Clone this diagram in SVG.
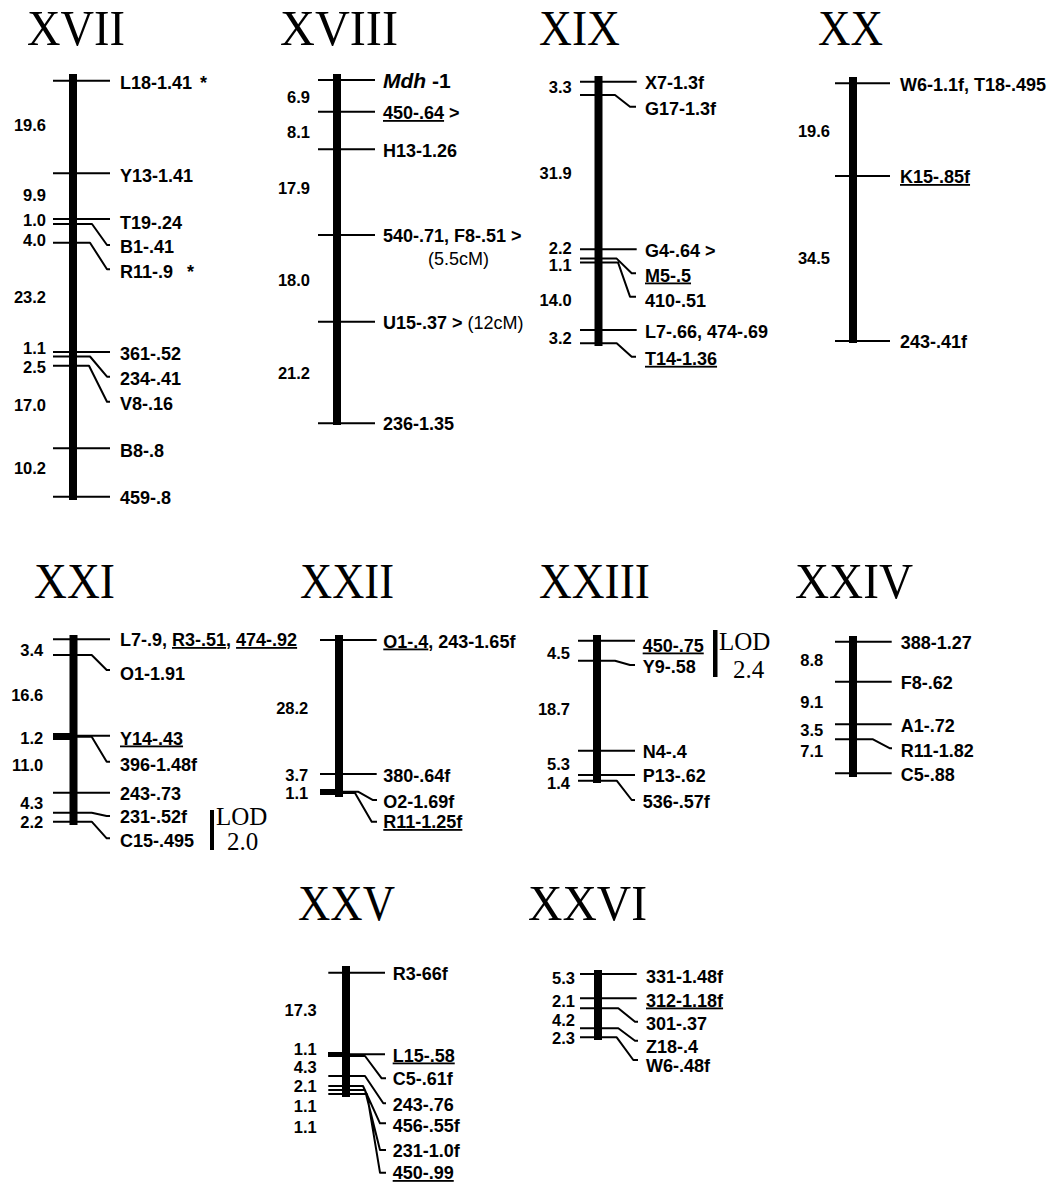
<svg xmlns="http://www.w3.org/2000/svg" width="1051" height="1186" viewBox="0 0 1051 1186">
<style>
.bg{fill:#fff}
.bar{fill:#000}
.tk{fill:none;stroke:#000;stroke-width:2;stroke-linejoin:round}
.lbl{font-family:"Liberation Sans",Arial,sans-serif;font-weight:bold;font-size:18px;fill:#000}
.num{font-family:"Liberation Sans",Arial,sans-serif;font-weight:bold;font-size:16.5px;fill:#000;text-anchor:end}
.ttl{font-family:"Liberation Serif","Times New Roman",serif;font-size:50px;fill:#000}
.lod{font-family:"Liberation Serif","Times New Roman",serif;font-size:25px;fill:#000}
.reg{font-weight:normal}
.u{text-decoration:underline}
</style>
<rect class="bg" x="0" y="0" width="1051" height="1186"/>

<!-- Titles -->
<g id="titles">
<text class="ttl" x="27" y="45" textLength="98" lengthAdjust="spacingAndGlyphs">XVII</text>
<text class="ttl" x="280" y="45" textLength="118" lengthAdjust="spacingAndGlyphs">XVIII</text>
<text class="ttl" x="539" y="45" textLength="81" lengthAdjust="spacingAndGlyphs">XIX</text>
<text class="ttl" x="818" y="45" textLength="65" lengthAdjust="spacingAndGlyphs">XX</text>
<text class="ttl" x="34" y="598" textLength="81" lengthAdjust="spacingAndGlyphs">XXI</text>
<text class="ttl" x="300" y="598" textLength="94" lengthAdjust="spacingAndGlyphs">XXII</text>
<text class="ttl" x="539" y="598" textLength="111" lengthAdjust="spacingAndGlyphs">XXIII</text>
<text class="ttl" x="795" y="598" textLength="118" lengthAdjust="spacingAndGlyphs">XXIV</text>
<text class="ttl" x="298" y="920" textLength="97" lengthAdjust="spacingAndGlyphs">XXV</text>
<text class="ttl" x="528" y="920" textLength="119" lengthAdjust="spacingAndGlyphs">XXVI</text>
</g>

<!-- Connectors (marker ticks) -->
<g id="connectors">
<!-- XVII -->
<path class="tk" d="M53,80.7H110M53,173.3H110M53,219H110M53,352H110M53,448.3H110M53,496.7H110"/>
<path class="tk" d="M53,224H92L107,245H110M53,242.7H90L107,269.3H110M53,356.5H90L107,376.7H110M53,365.7H89L107,401.7H110"/>
<!-- XVIII -->
<path class="tk" d="M318,80H375M318,111.7H375M318,149.3H375M318,235H375M318,321.7H375M318,423.3H375"/>
<!-- XIX -->
<path class="tk" d="M580,81.7H636.7M580,249.3H636.7M580,330H636.7"/>
<path class="tk" d="M580,95H615L630,106.7H636M580,258.6H616.7L631.7,273.3H636M580,262.4H618L630,296.7H636M580,343.3H616.7L631.7,356.7H636"/>
<!-- XX -->
<path class="tk" d="M835,83.3H890M835,176H890M835,341H890"/>
<!-- XXI -->
<path class="tk" d="M53,639.3H110M53,735.7H110M53,792.7H110"/>
<path class="tk" d="M53,655H91.7L106.7,670H110M73,736.7H91.7L106.7,761.7H110M53,812.7H91.7L106.7,816H110M53,821.7H91.7L106.7,838.3H110"/>
<!-- XXII -->
<path class="tk" d="M320,640H376.7M320,774H376.7"/>
<path class="tk" d="M320,791.7H358L373,800H377M320,793H355L371.7,821.7H377"/>
<!-- XXIII -->
<path class="tk" d="M578,640.7H635M578,750.7H635M578,775H635"/>
<path class="tk" d="M578,660.7H615L630,665H635M578,780.7H616.7L631.7,800H635"/>
<!-- XXIV -->
<path class="tk" d="M835,641.7H891.7M835,681.7H891.7M835,724.3H891.7M835,773.3H891.7"/>
<path class="tk" d="M835,739.3H873L890,748.3H892"/>
<!-- XXV -->
<path class="tk" d="M328.3,972.7H385M328.3,1054.3H385"/>
<path class="tk" d="M346,1056H365L381.7,1078.3H386M328.3,1076H365L383.3,1103.3H386M328.3,1086H363L380,1123.3H386M328.3,1090H365L380,1150H386M328.3,1094H367L380,1172.7H386"/>
<!-- XXVI -->
<path class="tk" d="M580,974H636.7M580,998.3H636.7"/>
<path class="tk" d="M580,1008.3H618.3L635,1021.7H638M580,1028.3H618.3L635,1040.7H638M580,1037.3H616.7L633.3,1060H638"/>
</g>

<!-- Chromosome XVII -->
<g id="chr-XVII">
<rect class="bar" x="69" y="74" width="8" height="426"/>
<text class="num" x="46" y="131">19.6</text>
<text class="num" x="46" y="201">9.9</text>
<text class="num" x="46" y="226">1.0</text>
<text class="num" x="46" y="246">4.0</text>
<text class="num" x="46" y="302.7">23.2</text>
<text class="num" x="46" y="354">1.1</text>
<text class="num" x="46" y="373">2.5</text>
<text class="num" x="46" y="411">17.0</text>
<text class="num" x="46" y="474.3">10.2</text>
<text class="lbl" x="120" y="88.5">L18-1.41<tspan x="200">*</tspan></text>
<text class="lbl" x="120" y="181.5">Y13-1.41</text>
<text class="lbl" x="120" y="228.5">T19-.24</text>
<text class="lbl" x="120" y="252.5">B1-.41</text>
<text class="lbl" x="120" y="277.5">R11-.9<tspan x="187">*</tspan></text>
<text class="lbl" x="120" y="359.5">361-.52</text>
<text class="lbl" x="120" y="384.5">234-.41</text>
<text class="lbl" x="120" y="409.5">V8-.16</text>
<text class="lbl" x="120" y="456.5">B8-.8</text>
<text class="lbl" x="120" y="503.5">459-.8</text>
</g>

<!-- Chromosome XVIII -->
<g id="chr-XVIII">
<rect class="bar" x="333" y="74" width="8" height="351"/>
<text class="num" x="310" y="102.7">6.9</text>
<text class="num" x="310" y="137.7">8.1</text>
<text class="num" x="310" y="194.3">17.9</text>
<text class="num" x="310" y="286">18.0</text>
<text class="num" x="310" y="379.3">21.2</text>
<text class="lbl" x="383" y="87.5" style="font-size:21px"><tspan font-style="italic">Mdh</tspan> -1</text>
<text class="lbl" x="383" y="119"><tspan class="u">450-.64</tspan> &gt;</text>
<text class="lbl" x="383" y="156.5">H13-1.26</text>
<text class="lbl" x="383" y="242">540-.71, F8-.51 &gt;</text>
<text class="lbl reg" x="428" y="265">(5.5cM)</text>
<text class="lbl" x="383" y="328.5">U15-.37 &gt; <tspan class="reg">(12cM)</tspan></text>
<text class="lbl" x="383" y="430">236-1.35</text>
</g>

<!-- Chromosome XIX -->
<g id="chr-XIX">
<rect class="bar" x="594.5" y="76" width="8" height="270"/>
<text class="num" x="571.7" y="92.7">3.3</text>
<text class="num" x="571.7" y="179.3">31.9</text>
<text class="num" x="571.7" y="253.5">2.2</text>
<text class="num" x="571.7" y="271">1.1</text>
<text class="num" x="571.7" y="306">14.0</text>
<text class="num" x="571.7" y="344.3">3.2</text>
<text class="lbl" x="645" y="88.5">X7-1.3f</text>
<text class="lbl" x="645" y="114.8">G17-1.3f</text>
<text class="lbl" x="645" y="256.5">G4-.64 &gt;</text>
<text class="lbl" x="645" y="281.5"><tspan class="u">M5-.5</tspan></text>
<text class="lbl" x="645" y="306.5">410-.51</text>
<text class="lbl" x="645" y="337.5">L7-.66, 474-.69</text>
<text class="lbl" x="645" y="364.8"><tspan class="u">T14-1.36</tspan></text>
</g>

<!-- Chromosome XX -->
<g id="chr-XX">
<rect class="bar" x="849" y="77" width="8" height="266"/>
<text class="num" x="830" y="136.7">19.6</text>
<text class="num" x="830" y="264.3">34.5</text>
<text class="lbl" x="900" y="90.5">W6-1.1f, T18-.495</text>
<text class="lbl" x="900" y="183"><tspan class="u">K15-.85f</tspan></text>
<text class="lbl" x="900" y="348">243-.41f</text>
</g>

<!-- Chromosome XXI -->
<g id="chr-XXI">
<rect class="bar" x="69.5" y="635" width="8" height="190"/>
<rect class="bar" x="53" y="733" width="20" height="7"/>
<text class="num" x="43.3" y="656">3.4</text>
<text class="num" x="43.3" y="701">16.6</text>
<text class="num" x="43.3" y="744">1.2</text>
<text class="num" x="43.3" y="771">11.0</text>
<text class="num" x="43.3" y="809">4.3</text>
<text class="num" x="43.3" y="828">2.2</text>
<text class="lbl" x="120" y="646">L7-.9, <tspan class="u">R3-.51</tspan>, <tspan class="u">474-.92</tspan></text>
<text class="lbl" x="120" y="680">O1-1.91</text>
<text class="lbl" x="120" y="744.5"><tspan class="u">Y14-.43</tspan></text>
<text class="lbl" x="120" y="770.5">396-1.48f</text>
<text class="lbl" x="120" y="799.5">243-.73</text>
<text class="lbl" x="120" y="823">231-.52f</text>
<text class="lbl" x="120" y="847">C15-.495</text>
<rect class="bar" x="210" y="810" width="4" height="40"/>
<text class="lod" x="216" y="825">LOD</text>
<text class="lod" x="227" y="850">2.0</text>
</g>

<!-- Chromosome XXII -->
<g id="chr-XXII">
<rect class="bar" x="335" y="635" width="8" height="162"/>
<rect class="bar" x="320" y="789" width="18" height="6"/>
<text class="num" x="308.3" y="714.3">28.2</text>
<text class="num" x="308.3" y="781">3.7</text>
<text class="num" x="308.3" y="799.3">1.1</text>
<text class="lbl" x="383.3" y="647.5"><tspan class="u">O1-.4</tspan>, 243-1.65f</text>
<text class="lbl" x="383.3" y="781.5">380-.64f</text>
<text class="lbl" x="383.3" y="808">O2-1.69f</text>
<text class="lbl" x="383.3" y="828"><tspan class="u">R11-1.25f</tspan></text>
</g>

<!-- Chromosome XXIII -->
<g id="chr-XXIII">
<rect class="bar" x="593" y="635" width="8" height="148"/>
<text class="num" x="570" y="658.7">4.5</text>
<text class="num" x="570" y="715.3">18.7</text>
<text class="num" x="570" y="770">5.3</text>
<text class="num" x="570" y="789.3">1.4</text>
<text class="lbl" x="642.7" y="651.5"><tspan class="u">450-.75</tspan></text>
<text class="lbl" x="642.7" y="673">Y9-.58</text>
<text class="lbl" x="642.7" y="757.5">N4-.4</text>
<text class="lbl" x="642.7" y="781.5">P13-.62</text>
<text class="lbl" x="642.7" y="808">536-.57f</text>
<rect class="bar" x="713" y="630" width="4.5" height="47"/>
<text class="lod" x="719" y="650">LOD</text>
<text class="lod" x="733" y="678">2.4</text>
</g>

<!-- Chromosome XXIV -->
<g id="chr-XXIV">
<rect class="bar" x="849" y="636" width="8" height="141"/>
<text class="num" x="823.3" y="666">8.8</text>
<text class="num" x="823.3" y="707.7">9.1</text>
<text class="num" x="823.3" y="736">3.5</text>
<text class="num" x="823.3" y="757">7.1</text>
<text class="lbl" x="900.7" y="648.5">388-1.27</text>
<text class="lbl" x="900.7" y="688.5">F8-.62</text>
<text class="lbl" x="900.7" y="731.5">A1-.72</text>
<text class="lbl" x="900.7" y="756.5">R11-1.82</text>
<text class="lbl" x="900.7" y="780.5">C5-.88</text>
</g>

<!-- Chromosome XXV -->
<g id="chr-XXV">
<rect class="bar" x="342" y="966" width="8" height="131"/>
<rect class="bar" x="328" y="1052" width="15" height="5"/>
<text class="num" x="316.7" y="1016">17.3</text>
<text class="num" x="316.7" y="1055.3">1.1</text>
<text class="num" x="316.7" y="1073.3">4.3</text>
<text class="num" x="316.7" y="1092">2.1</text>
<text class="num" x="316.7" y="1112">1.1</text>
<text class="num" x="316.7" y="1132.7">1.1</text>
<text class="lbl" x="392.7" y="979.5">R3-66f</text>
<text class="lbl" x="392.7" y="1061.5"><tspan class="u">L15-.58</tspan></text>
<text class="lbl" x="392.7" y="1085">C5-.61f</text>
<text class="lbl" x="392.7" y="1110.5">243-.76</text>
<text class="lbl" x="392.7" y="1131.5">456-.55f</text>
<text class="lbl" x="392.7" y="1156.5">231-1.0f</text>
<text class="lbl" x="392.7" y="1179"><tspan class="u">450-.99</tspan></text>
</g>

<!-- Chromosome XXVI -->
<g id="chr-XXVI">
<rect class="bar" x="594" y="970" width="8" height="70"/>
<text class="num" x="575" y="984.3">5.3</text>
<text class="num" x="575" y="1006.7">2.1</text>
<text class="num" x="575" y="1026">4.2</text>
<text class="num" x="575" y="1044.3">2.3</text>
<text class="lbl" x="646" y="982.5">331-1.48f</text>
<text class="lbl" x="646" y="1006.5"><tspan class="u">312-1.18f</tspan></text>
<text class="lbl" x="646" y="1030">301-.37</text>
<text class="lbl" x="646" y="1053">Z18-.4</text>
<text class="lbl" x="646" y="1071.5">W6-.48f</text>
</g>
</svg>
